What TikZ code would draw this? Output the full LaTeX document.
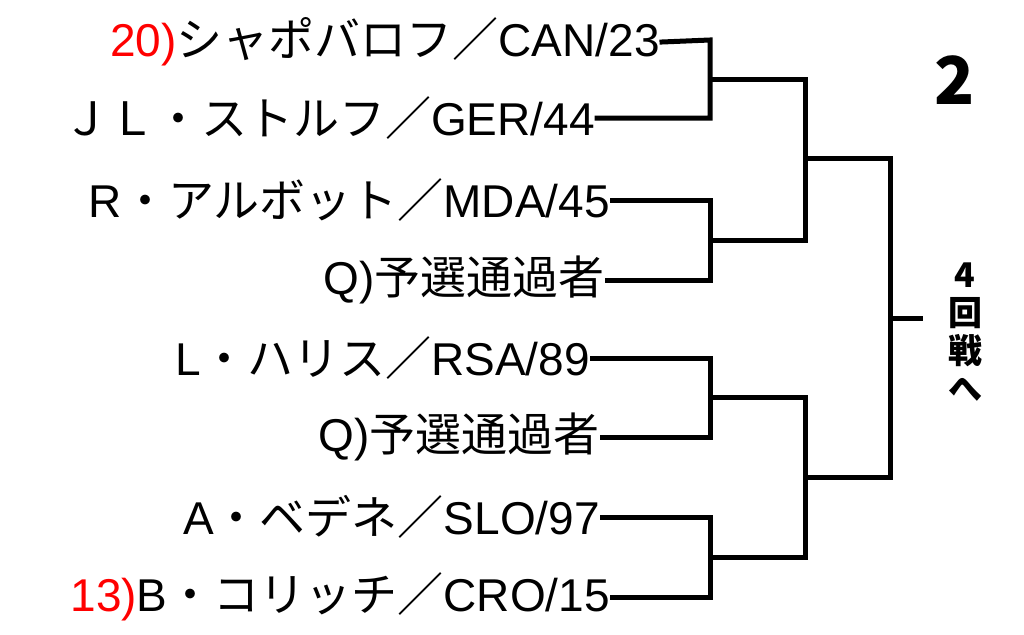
\documentclass[tikz,border=0pt]{standalone}
\usepackage{fontspec}
\setmainfont{Noto Sans CJK JP}
\newfontfamily\lat{Liberation Sans}
\begin{document}
\begin{tikzpicture}[x=1pt,y=-1pt,
  nm/.style={anchor=east,inner sep=2pt,font=\fontsize{46}{48}\selectfont},
  br/.style={line width=5pt,line cap=rect}]
\useasboundingbox (0,0) rectangle (1024,634);
\fill[white] (0,0) rectangle (1024,634);
\node[nm] (p1) at (662,42) {\lat\textcolor{red}{20)}{\rmfamily シャポバロフ／}CAN/23};
\node[nm] (p2) at (597,118) {ＪＬ・ストルフ／{\lat GER/44}};
\node[nm] (p3) at (612,200) {{\lat R}・アルボット／{\lat MDA/45}};
\node[nm] (p4) at (607,280) {{\lat Q)}予選通過者};
\node[nm] (p5) at (592,358) {{\lat L}・ハリス／{\lat RSA/89}};
\node[nm] (p6) at (602,437) {{\lat Q)}予選通過者};
\node[nm] (p7) at (602,517) {{\lat A}・ベデネ／{\lat SLO/97}};
\node[nm] (p8) at (612,597) {{\lat\textcolor{red}{13)}B}・コリッチ／{\lat CRO/15}};
\draw[br] (p1.east) -- (710,40) -- (710,118) -- (p2.east);
\draw[br] (710,79) -- (805,79);
\draw[br] (p3.east) -- (710,200) -- (710,280) -- (p4.east);
\draw[br] (710,240) -- (805,240);
\draw[br] (805,79) -- (805,240);
\draw[br] (805,158) -- (890,158);
\draw[br] (p5.east) -- (710,358) -- (710,437) -- (p6.east);
\draw[br] (710,397) -- (805,397);
\draw[br] (p7.east) -- (710,517) -- (710,597) -- (p8.east);
\draw[br] (710,557) -- (805,557);
\draw[br] (805,397) -- (805,557);
\draw[br] (805,477) -- (890,477);
\draw[br] (890,158) -- (890,477);
\coordinate (w) at (920,318);
\draw[br] (890,318) -- (w);
\node[font=\fontsize{66}{66}\selectfont\bfseries] (rd) at (955,80) {2};
\node[font=\fontsize{34}{38}\selectfont\bfseries,align=center,inner sep=0pt] (nx) at (965,332) {4\\回\\戦\\へ};
\end{tikzpicture}
\end{document}
